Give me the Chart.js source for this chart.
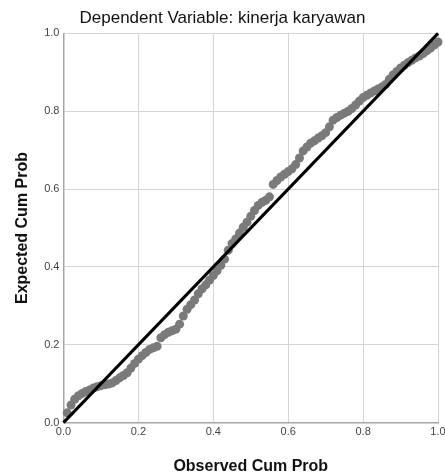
<!DOCTYPE html>
<html>
<head>
<meta charset="utf-8">
<title>Normal P-P Plot</title>
<script src="https://cdn.jsdelivr.net/npm/chart.js@4"></script>
<style>
  body { margin: 0; background: #fff; }
</style>
</head>
<body>
<canvas id="mycanvas" width="445" height="476"></canvas>
<script>
// observed cumulative probability (x) and expected cumulative probability (y)
var observed = [0.01,0.02,0.03,0.04,0.05,0.06,0.07,0.08,0.09,0.10,
                0.11,0.12,0.13,0.14,0.15,0.16,0.17,0.18,0.19,0.20,
                0.21,0.22,0.23,0.24,0.25,0.26,0.27,0.28,0.29,0.30,
                0.31,0.32,0.33,0.34,0.35,0.36,0.37,0.38,0.39,0.40,
                0.41,0.42,0.43,0.44,0.45,0.46,0.47,0.48,0.49,0.50,
                0.51,0.52,0.53,0.54,0.55,0.56,0.57,0.58,0.59,0.60,
                0.61,0.62,0.63,0.64,0.65,0.66,0.67,0.68,0.69,0.70,
                0.71,0.72,0.73,0.74,0.75,0.76,0.77,0.78,0.79,0.80,
                0.81,0.82,0.83,0.84,0.85,0.86,0.87,0.88,0.89,0.90,
                0.91,0.92,0.93,0.94,0.95,0.96,0.97,0.98,0.99,1.00];
var expected = [0.025,0.045,0.060,0.069,0.075,0.080,0.084,0.089,0.092,0.095,
                0.097,0.099,0.102,0.108,0.115,0.121,0.128,0.140,0.152,0.163,
                0.172,0.180,0.188,0.192,0.196,0.218,0.226,0.232,0.236,0.240,
                0.253,0.274,0.291,0.303,0.315,0.331,0.344,0.354,0.366,0.378,
                0.390,0.404,0.420,0.443,0.460,0.472,0.487,0.502,0.515,0.530,
                0.545,0.558,0.566,0.571,0.580,0.612,0.622,0.631,0.638,0.645,
                0.652,0.663,0.680,0.698,0.708,0.718,0.724,0.731,0.737,0.745,
                0.760,0.777,0.784,0.790,0.795,0.800,0.807,0.816,0.826,0.835,
                0.841,0.847,0.852,0.857,0.862,0.869,0.882,0.893,0.902,0.911,
                0.918,0.925,0.931,0.937,0.942,0.948,0.955,0.962,0.970,0.978];
// diagonal reference line
var refX = [0, 1];
var refY = [0, 1];
var tickValues = [0, 0.2, 0.4, 0.6, 0.8, 1.0];

var points = [];
for (var i in observed) {
    points.push({x: observed[i], y: expected[i]});
}
var diag = [];
for (var j in refX) {
    diag.push({x: refX[j], y: refY[j]});
}

var fontFam = "'Liberation Sans', Arial, sans-serif";

var ctx = document.getElementById("mycanvas");
var ppChart = new Chart(ctx, {
    type: 'scatter',
    data: {
        datasets: [
            {
                label: 'Diagonal',
                type: 'line',
                data: diag,
                borderColor: "#000000",
                borderWidth: 3,
                pointRadius: 0,
                fill: false,
                order: 0,
                clip: false
            },
            {
                label: 'Residual',
                data: points,
                backgroundColor: "#7a7a7a",
                borderWidth: 0,
                pointRadius: 4.5,
                order: 1,
                clip: false
            }
        ]
    },
    options: {
        responsive: false,
        animation: false,
        devicePixelRatio: 1,
        layout: { padding: 0 },
        plugins: {
            legend: { display: false },
            tooltip: { enabled: false },
            title: {
                display: true,
                text: 'Dependent Variable: kinerja karyawan',
                color: '#111',
                font: { family: fontFam, size: 17, weight: 'normal' },
                padding: { top: 8, bottom: 5 }
            }
        },
        scales: {
            x: {
                type: 'linear',
                min: 0,
                max: 1,
                afterBuildTicks: function(axis) {
                    axis.ticks = tickValues.map(function(v) { return {value: v}; });
                },
                // the last label is allowed to run past the edge, like the original
                afterFit: function(axis) {
                    axis.paddingRight = 7;
                },
                ticks: {
                    color: '#444',
                    padding: 3,
                    font: { family: fontFam, size: 11 },
                    callback: function(v) { return v.toFixed(1); }
                },
                grid: { color: '#d4d4d4', lineWidth: 1, drawTicks: false },
                border: { color: '#a6a6a6', width: 1.5 },
                title: {
                    display: true,
                    text: 'Observed Cum Prob',
                    color: '#111',
                    font: { family: fontFam, size: 16, weight: 'bold' },
                    padding: { top: 15, bottom: 0 }
                }
            },
            y: {
                type: 'linear',
                min: 0,
                max: 1,
                afterBuildTicks: function(axis) {
                    axis.ticks = tickValues.map(function(v) { return {value: v}; });
                },
                ticks: {
                    color: '#444',
                    padding: 4,
                    font: { family: fontFam, size: 11 },
                    callback: function(v) { return v.toFixed(1); }
                },
                grid: { color: '#d4d4d4', lineWidth: 1, drawTicks: false },
                border: { color: '#a6a6a6', width: 1.5 },
                title: {
                    display: true,
                    text: 'Expected Cum Prob',
                    color: '#111',
                    font: { family: fontFam, size: 16, weight: 'bold' },
                    padding: { top: 13, bottom: 8 }
                }
            }
        }
    }
});
</script>
</body>
</html>
